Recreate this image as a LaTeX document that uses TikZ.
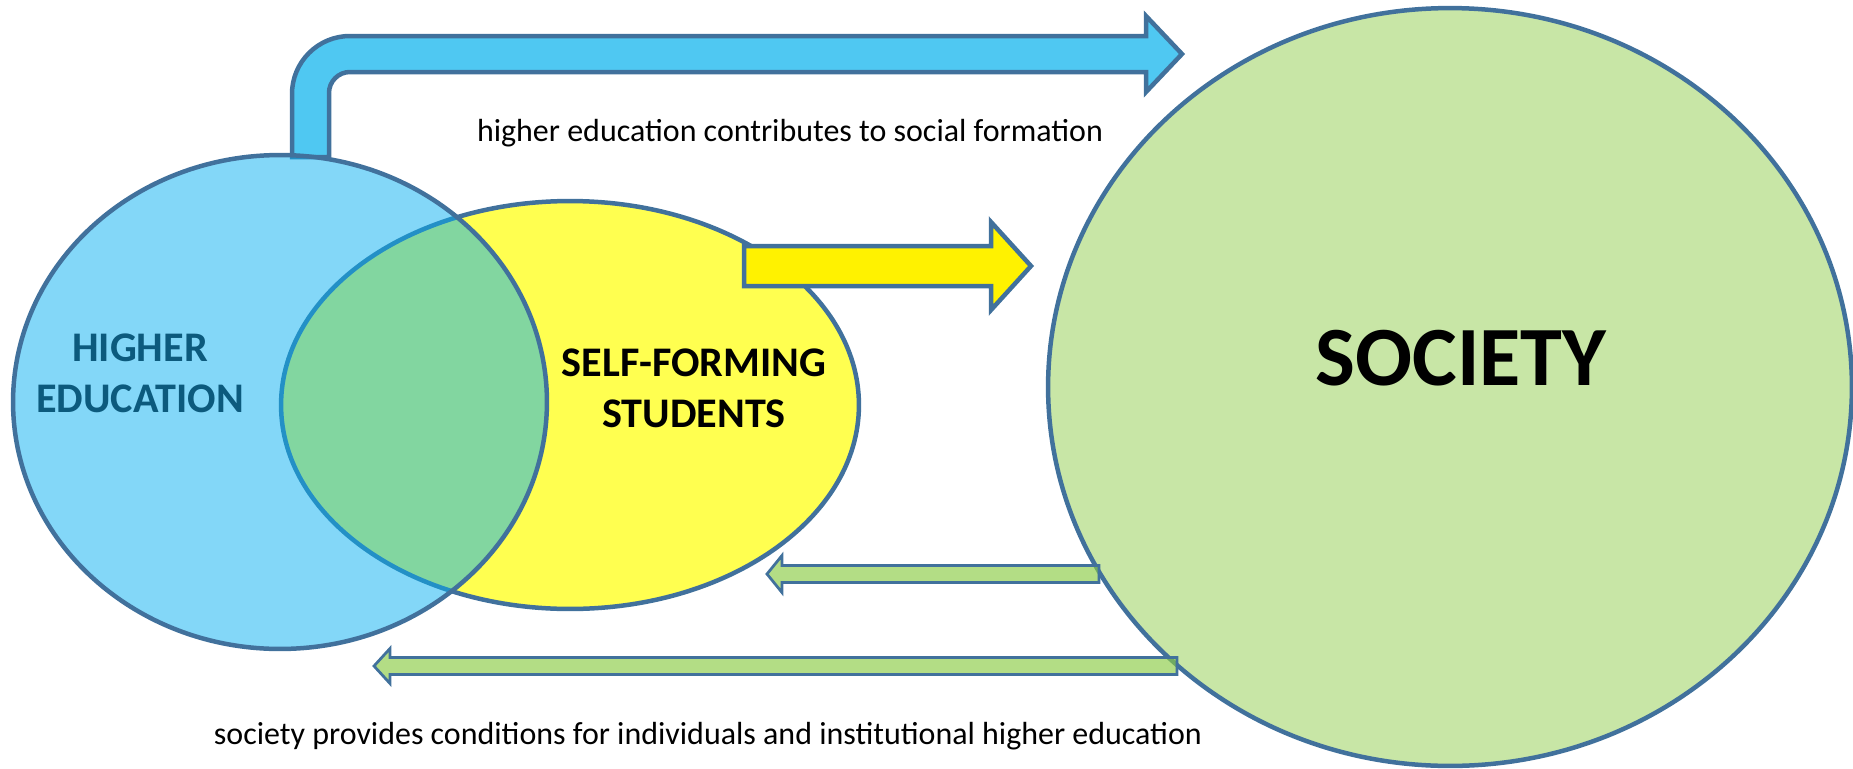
\documentclass[tikz,border=0pt]{standalone}
\usepackage{fontspec}
\setmainfont{Carlito}
\usetikzlibrary{positioning,calc,shapes.geometric}

\definecolor{outline}{RGB}{65,113,156}
\definecolor{heblue}{RGB}{7,175,241}
\definecolor{sfyellow}{RGB}{255,255,80}
\definecolor{socgreen}{RGB}{200,230,166}
\definecolor{backgreen}{RGB}{138,203,68}
\definecolor{arrowblue}{RGB}{79,200,242}
\definecolor{hetext}{RGB}{12,90,125}

\tikzset{
  circ/.style={ellipse,draw=outline,line width=0.09cm,inner sep=0pt},
  fwd/.style={draw=outline,line width=0.09cm,line join=miter},
  back/.style={draw=outline,line width=0.055cm,fill=backgreen,fill opacity=0.65,line join=miter},
  lbl/.style={font=\bfseries\fontsize{24}{29}\selectfont,align=center,inner sep=0pt},
  note/.style={font=\fontsize{18.2}{22}\selectfont,anchor=base,inner sep=0pt}
}

% block arrow: style, tail, tip, shaft half width, head half width, head length
\newcommand{\blockarrow}[6]{%
  \filldraw[#1] ($(#2)+(0,-#4)$) -- ($(#3)+({-(#6)},-#4)$) -- ($(#3)+({-(#6)},-#5)$) -- (#3)
    -- ($(#3)+({-(#6)},#5)$) -- ($(#3)+({-(#6)},#4)$) -- ($(#2)+(0,#4)$) -- cycle;}

\begin{document}
\begin{tikzpicture}[x=0.02cm,y=-0.02cm]
  \useasboundingbox (0,0) rectangle (1853,768);

  % society
  \node[circ,fill=socgreen,minimum width=16.08cm,minimum height=15.16cm] (soc) at (1450,387) {};
  \node[font=\bfseries\fontsize{48}{58}\selectfont,inner sep=0pt] (socLabel) at (1461,358) {SOCIETY};

  % society back to students and to higher education
  \coordinate (backTail1) at (1099,574); \coordinate (backTip1) at (767,574);
  \coordinate (backTail2) at (1177,666); \coordinate (backTip2) at (374,666);
  \blockarrow{back}{backTail1}{backTip1}{8.5}{18.5}{-15}
  \blockarrow{back}{backTail2}{backTip2}{8.5}{17.5}{-16}

  % bent arrow from higher education over to society
  \coordinate (heTip) at (1182,54);
  \filldraw[fwd,fill=arrowblue] (292,157) -- (292,94) arc[start angle=180,end angle=270,radius=58]
    -- (1146,36) -- (1146,16) -- (heTip) -- (1146,92) -- (1146,72)
    -- (350,72) arc[start angle=270,end angle=180,radius=21] -- (329,157) -- cycle;

  % students
  \node[circ,fill=sfyellow,minimum width=11.56cm,minimum height=8.16cm] (sfs) at (570,405) {};
  \coordinate (sfsTail) at (744,266); \coordinate (sfsTip) at (1031,266);
  \blockarrow{fwd,fill=yellow}{sfsTail}{sfsTip}{20}{44}{40}

  % higher education, see-through over the students
  \node[circ,fill=heblue,fill opacity=0.5,minimum width=10.68cm,minimum height=9.88cm] (he) at (280,402) {};

  \node[lbl,text=hetext] (heLabel) at (140,373) {HIGHER\\EDUCATION};
  \node[lbl] (sfsLabel) at (694,388) {SELF-FORMING\\STUDENTS};

  \node[note] (topNote) at (790,141) {higher education contributes to social formation};
  \node[note] (bottomNote) at (708,744) {society provides conditions for individuals and institutional higher education};
\end{tikzpicture}
\end{document}
